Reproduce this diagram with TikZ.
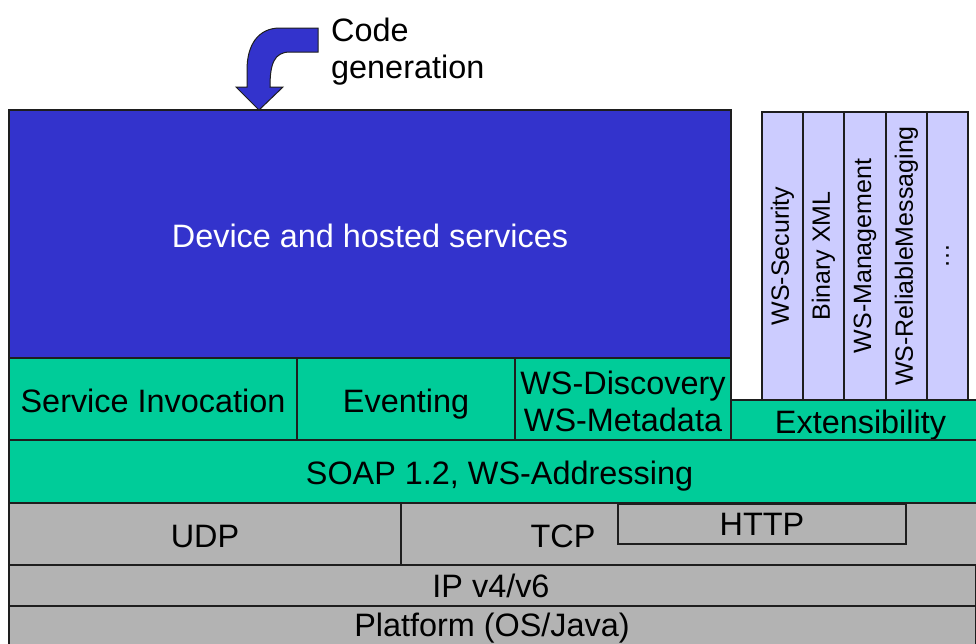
\documentclass[tikz,border=0pt]{standalone}
\usepackage{fontspec}
\setmainfont{Liberation Sans}
\definecolor{devblue}{RGB}{51,51,204}
\definecolor{wsgreen}{RGB}{0,204,153}
\definecolor{netgrey}{RGB}{179,179,179}
\definecolor{extlav}{RGB}{204,204,255}
\definecolor{edge}{RGB}{30,30,30}
\begin{document}
\begin{tikzpicture}[x=1pt,y=-1pt,
  cell/.style={draw=edge,line width=1.2pt,anchor=north west,inner sep=0pt,outer sep=0pt,
    font=\fontsize{32.4}{37.5}\selectfont,align=center},
  onecell/.style={cell,text height=26pt,text depth=0pt},
  devcell/.style={onecell,fill=devblue,text=white},
  greencell/.style={onecell,fill=wsgreen},
  greencelltwo/.style={cell,fill=wsgreen},
  greycell/.style={onecell,fill=netgrey},
  lavcell/.style={cell,fill=extlav},
  vlabel/.style={rotate=90,font=\fontsize{25}{30}\selectfont,inner sep=0pt},
  lbl/.style={font=\fontsize{32.4}{37.5}\selectfont,inner sep=0pt,align=left}]
\useasboundingbox (0,0) rectangle (976,643);
\clip (0,0) rectangle (976,643);
\fill[white] (0,0) rectangle (976,643);
% top blue block
\node[devcell,minimum width=722pt,minimum height=248pt] (dev) at (9,110) {Device and hosted services};
% green row
\node[greencell,minimum width=288pt,minimum height=82pt] (si) at (9,358) {Service Invocation};
\node[greencell,minimum width=218pt,minimum height=82pt] (ev) at (297,358) {Eventing};
\node[greencelltwo,minimum width=216pt,minimum height=82pt] (wsd) at (515,358) {};
\node[lbl,align=center,anchor=center] (wsdl) at (623,401.5) {WS-Discovery\\WS-Metadata};
\node[greencell,minimum width=259pt,minimum height=40pt] (ext) at (731,400) {Extensibility};
% extension columns
\node[lavcell,minimum width=41pt,minimum height=288pt] (sec) at (762,112) {};
\node[lavcell,minimum width=41pt,minimum height=288pt] (bin) at (803,112) {};
\node[lavcell,minimum width=42pt,minimum height=288pt] (mgmt) at (844,112) {};
\node[lavcell,minimum width=41pt,minimum height=288pt] (rel) at (886,112) {};
\node[lavcell,minimum width=41pt,minimum height=288pt] (more) at (927,112) {};
\node[vlabel] (secl) at (sec.center) {WS-Security};
\node[vlabel] (binl) at (bin.center) {Binary XML};
\node[vlabel] (mgmtl) at (mgmt.center) {WS-Management};
\node[vlabel] (rell) at (rel.center) {WS-ReliableMessaging};
\node[vlabel] (morel) at (more.center) {\dots};
% SOAP
\node[greencell,minimum width=981pt,minimum height=63pt] (soap) at (9,440) {SOAP 1.2, WS-Addressing};
% transport
\node[greycell,minimum width=392pt,minimum height=62pt] (udp) at (9,503) {UDP};
\node[greycell,minimum width=580pt,minimum height=62pt] (tcp) at (401,503) {};
\node[lbl,anchor=center] (tcpl) at (563,536) {TCP};
\node[greycell,minimum width=288pt,minimum height=40pt] (http) at (618,504) {};
\node[lbl,anchor=center] (httpl) at (762,524) {HTTP};
\node[greycell,minimum width=967pt,minimum height=41pt] (ip) at (9,565) {};
\node[lbl,anchor=center] (ipl) at (491,586) {IP v4/v6};
\node[greycell,minimum width=967pt,minimum height=50pt] (plat) at (9,606) {};
\node[lbl,anchor=center] (platl) at (492,628) {Platform (OS/Java)};
% code generation arrow
\coordinate (tip) at (259,110);
\draw[fill=devblue,draw=edge,line width=1pt,line join=miter]
  (tip) -- (283,87) -- (270,87)
  .. controls (270,64) and (274,52) .. (290,52)
  -- (318,52) -- (318,28) -- (280,28)
  .. controls (258,28) and (247,45) .. (247,70)
  -- (247,87) -- (236,87) -- cycle;
\node[lbl,anchor=west] (cg) at (331,51.5) {Code\\generation};
\end{tikzpicture}
\end{document}
